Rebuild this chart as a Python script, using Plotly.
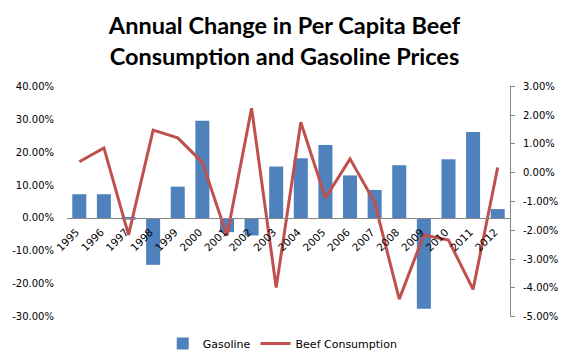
import plotly.graph_objects as go

years = ["1995", "1996", "1997", "1998", "1999", "2000", "2001", "2002", "2003",
         "2004", "2005", "2006", "2007", "2008", "2009", "2010", "2011", "2012"]
gasoline = [0.072, 0.072, -0.005, -0.142, 0.095, 0.295, -0.043, -0.053, 0.156,
            0.181, 0.221, 0.129, 0.085, 0.160, -0.275, 0.178, 0.261, 0.027]
beef = [0.0038, 0.0086, -0.0216, 0.0148, 0.0121, 0.0036, -0.0219, 0.0224, -0.0399,
        0.0175, -0.0088, 0.0048, -0.0103, -0.0439, -0.0216, -0.0234, -0.0405, 0.0018]

left_ticks = [-0.3, -0.2, -0.1, 0.0, 0.1, 0.2, 0.3, 0.4]
left_text = ["-30.00%", "-20.00%", "-10.00%", "0.00%", "10.00%", "20.00%", "30.00%", "40.00%"]
right_ticks = [-0.05, -0.04, -0.03, -0.02, -0.01, 0.0, 0.01, 0.02, 0.03]
right_text = ["-5.00%", "-4.00%", "-3.00%", "-2.00%", "-1.00%", "0.00%", "1.00%", "2.00%", "3.00%"]

tick_font = dict(family="DejaVu Sans", size=10, color="#000000")
year_font = dict(family="DejaVu Sans", size=10.5, color="#000000")
legend_font = dict(family="DejaVu Sans", size=11, color="#000000")

fig = go.Figure()
fig.add_trace(go.Bar(x=years, y=gasoline, name="Gasoline",
                     marker=dict(color="#4F81BD", line=dict(width=0)), yaxis="y"))
fig.add_trace(go.Scatter(x=years, y=beef, name="Beef Consumption", mode="lines",
                         line=dict(color="#C0504D", width=3), yaxis="y2"))

fig.update_layout(
    width=569, height=364,
    margin=dict(l=67, r=59, t=86, b=47, autoexpand=False),
    paper_bgcolor="white", plot_bgcolor="white",
    bargap=0.43,
    showlegend=True,
    title=dict(text="<b>Annual Change in Per Capita Beef<br>Consumption and Gasoline Prices</b>",
               x=0.5, xanchor="center", xref="container", y=0.906, yanchor="top", yref="container",
               font=dict(family="Lato", size=23.5, color="#000000")),
    xaxis=dict(type="category", anchor="free", position=3/7, showline=True,
               linecolor="#868686", linewidth=1, ticks="", tickangle=-45,
               tickfont=year_font, showgrid=False, zeroline=False, automargin=False,
               ticklabelshift=-3, ticklabelstandoff=3),
    yaxis=dict(range=[-0.3002, 0.4002], tickvals=left_ticks, ticktext=left_text,
               showgrid=False, zeroline=False, showline=False, ticks="",
               tickfont=tick_font, ticklabelstandoff=12, automargin=False),
    yaxis2=dict(range=[-0.0501, 0.0301], tickvals=right_ticks, ticktext=right_text,
                overlaying="y", side="right", showgrid=False, zeroline=False,
                showline=True, linecolor="#868686", linewidth=1,
                ticks="outside", ticklen=4, tickcolor="#868686",
                tickfont=tick_font, ticklabelstandoff=6, automargin=False),
    legend=dict(orientation="h", x=0.487, xanchor="center", y=-0.115, yanchor="middle",
                font=legend_font, bgcolor="rgba(0,0,0,0)"),
)

fig.write_html("out.html", config={"displayModeBar": False},
               post_script="document.body.style.margin='0';")
